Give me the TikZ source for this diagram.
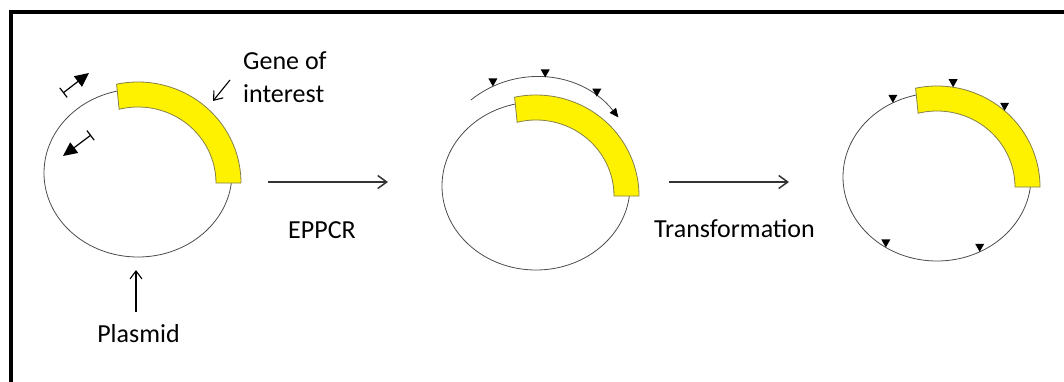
\documentclass[tikz,border=0pt]{standalone}
\usepackage{fontspec}
\setmainfont{Carlito}
\usetikzlibrary{arrows.meta,calc}
\begin{document}
\begin{tikzpicture}[x=1pt,y=1pt,
    plasmid/.style={draw=black!70, line width=0.8pt},
    gene/.style={draw=black!55!yellow, fill=yellow, line width=0.8pt},
    lbl/.style={font=\fontsize{26}{32}\selectfont, inner sep=0pt},
    pointer/.style={line width=1.1pt, -{Straight Barb[length=8pt,width=12pt]}},
    stage/.style={draw=black!80, line width=1.5pt, -{Straight Barb[length=9pt,width=13pt]}},
    primer/.style={line width=1.2pt, {Bar[width=12pt]}-{Triangle[length=14pt,width=13pt]}},
    mut/.pic={\fill (0,0) -- (-4.5,8) -- (4.5,8) -- cycle;}
]
\useasboundingbox (0,0) rectangle (1064,381);
\draw[line width=4pt] (10.5,-10) rectangle (1080,368.5);
\foreach \name/\x/\y in {p1/138/208, p2/536/195, p3/937/204} {
  \coordinate (\name) at (\x,\y);
  \draw[plasmid] (\name) ellipse [x radius=94, y radius=84];
  \draw[gene] ($(\name)+(0,-10)+(102:103 and 101)$) arc[start angle=102, end angle=0, x radius=103, y radius=101]
    -- ++(-25,0) arc[start angle=0, end angle=104, x radius=78, y radius=76] -- cycle;
}
\coordinate (fwdS) at (63,288);
\coordinate (fwdE) at (89,308);
\coordinate (revS) at (91,246);
\coordinate (revE) at (63,225);
\draw[primer] (fwdS) -- (fwdE);
\draw[primer] (revS) -- (revE);
\node[lbl, align=left, anchor=base west] (gene) at (243,279) {Gene of\\interest};
\coordinate (geneS) at (230,301);
\coordinate (geneE) at (213,280);
\draw[pointer] (geneS) -- (geneE);
\node[lbl, anchor=base] (plasLbl) at (138.5,39) {Plasmid};
\coordinate (plasS) at (136,69);
\coordinate (plasE) at (136,111);
\draw[pointer] (plasS) -- (plasE);
\coordinate (pcrS) at (268,199);
\coordinate (pcrE) at (388,199);
\draw[stage] (pcrS) -- (pcrE);
\node[lbl, anchor=base] (pcr) at (322,143) {EPPCR};
\coordinate (trS) at (669,199);
\coordinate (trE) at (789,199);
\draw[stage] (trS) -- (trE);
\node[lbl, anchor=base] (tr) at (734.5,144) {Transformation};
\draw[plasmid, -{Triangle[length=9pt,width=8pt,color=black]}] ($(p2)+(128:106 and 109)$)
  arc[start angle=128, end angle=39, x radius=106, y radius=109];
\foreach \a in {114,85,55}
  \pic at ($(p2)+(\a:106 and 109)$) {mut};
\foreach \a in {118,237,297}
  \pic at ($(p3)+(\a:94 and 84)$) {mut};
\foreach \a in {81,49}
  \pic at ($(p3)+(0,-10)+(\a:103 and 101)$) {mut};
\end{tikzpicture}
\end{document}
